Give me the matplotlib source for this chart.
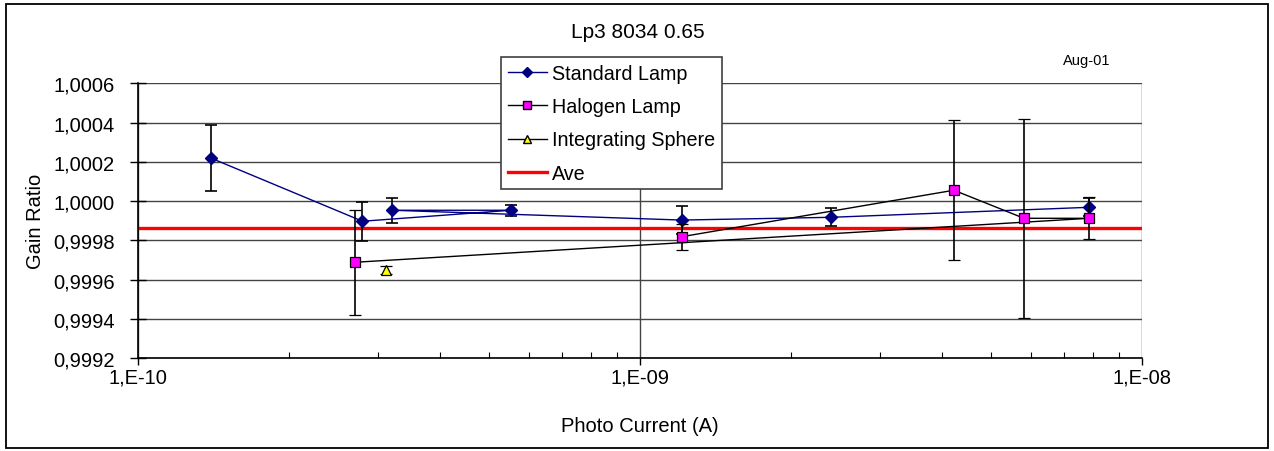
import math
import matplotlib
matplotlib.use("Agg")
import matplotlib.pyplot as plt
from matplotlib.ticker import FuncFormatter, FixedLocator, MultipleLocator, NullFormatter
from matplotlib.lines import Line2D
from matplotlib.patches import Rectangle

plt.rcParams['font.family'] = ['Liberation Sans', 'DejaVu Sans']

# ---- data ----
std_x = [1.40e-10, 2.80e-10, 5.53e-10, 3.21e-10, 1.21e-9, 2.40e-9, 7.84e-9]
std_y = [1.000218, 0.999897, 0.999953, 0.999953, 0.999903, 0.999917, 0.999968]
std_err = [0.000168, 0.000100, 0.000027, 0.000063, 0.000073, 0.000045, 0.000046]

hal_x = [1.21e-9, 4.22e-9, 5.82e-9, 7.84e-9, 2.71e-10]
hal_y = [0.999818, 1.000055, 0.999912, 0.999912, 0.999688]
hal_err = [0.000066, 0.000358, 0.000507, 0.000106, 0.000267]

sph_x = [3.12e-10]
sph_y = [0.999648]
sph_err = [0.000020]

ave_value = 0.99986

x_major = [1e-10, 1e-9, 1e-8]
x_minor = [m * d for d in (1e-10, 1e-9) for m in range(2, 10)]

title = "Lp3 8034 0.65"
date_note = "Aug-01"
x_label = "Photo Current (A)"
y_label = "Gain Ratio"
legend_labels = ["Standard Lamp", "Halogen Lamp", "Integrating Sphere", "Ave"]

W, H = 1274, 452
FS = 14.5
fig = plt.figure(figsize=(W / 100, H / 100), dpi=100)
fig.patch.set_facecolor('white')

# outer chart border
fig.add_artist(Rectangle((6 / W, 1 - 449 / H), (1268 - 6) / W, (449 - 5) / H,
                         transform=fig.transFigure, fill=False,
                         edgecolor='black', linewidth=1.3))

ax = fig.add_axes([138 / W, 1 - 359 / H, (1142 - 138) / W, (359 - 84.3) / H])
ax.set_xscale('log')
ax.set_xlim(1e-10, 1e-8)
ax.set_ylim(0.9992, 1.0006)

ax.yaxis.set_major_locator(MultipleLocator(0.0002))
ax.xaxis.set_major_locator(FixedLocator(x_major))
ax.xaxis.set_minor_locator(FixedLocator(x_minor))

ax.yaxis.set_major_formatter(FuncFormatter(lambda v, p: f"{v:.4f}".replace('.', ',')))
ax.xaxis.set_major_formatter(FuncFormatter(
    lambda v, p: f"1,E{int(round(math.log10(v))):+03d}"))
ax.xaxis.set_minor_formatter(NullFormatter())

ax.grid(True, which='major', axis='both', color='#444444', linewidth=1.0)
ax.set_axisbelow(True)
for s in ['top', 'right']:
    ax.spines[s].set_visible(False)
for s in ['left', 'bottom']:
    ax.spines[s].set_color('black')
    ax.spines[s].set_linewidth(1.2)

ax.tick_params(axis='y', which='major', direction='inout', length=11, width=1.0,
               labelsize=FS, pad=11)
ax.tick_params(axis='x', which='major', direction='out', length=5, width=1.0,
               labelsize=FS, pad=2)
ax.tick_params(axis='x', which='minor', direction='in', length=4, width=0.8)

# Ave line
ax.axhline(ave_value, color='#ff0000', linewidth=2.4, zorder=2)

# series
ax.errorbar(std_x, std_y, yerr=std_err, color='#000080', linewidth=1.0,
            marker='D', markersize=6, markerfacecolor='#000080',
            markeredgecolor='#000080', ecolor='black', elinewidth=1.2,
            capsize=4, capthick=1.2, zorder=3)
ax.errorbar(hal_x, hal_y, yerr=hal_err, color='black', linewidth=1.0,
            marker='s', markersize=7, markerfacecolor='#ff00ff',
            markeredgecolor='black', markeredgewidth=0.9, ecolor='black',
            elinewidth=1.2, capsize=4, capthick=1.2, zorder=4)
ax.errorbar(sph_x, sph_y, yerr=sph_err, color='black', linewidth=1.0,
            marker='^', markersize=7, markerfacecolor='#ffff00',
            markeredgecolor='black', markeredgewidth=0.9, ecolor='black',
            elinewidth=1.2, capsize=4, capthick=1.2, zorder=4)

ax.set_xlabel(x_label, fontsize=FS, labelpad=21)
ax.set_ylabel(y_label, fontsize=FS, labelpad=6)

fig.text(637.5 / W, 1 - 32 / H, title, ha='center', va='center', fontsize=15)
fig.text(1087 / W, 1 - 61 / H, date_note, ha='center', va='center', fontsize=10.5)

handles = [
    Line2D([], [], color='#000080', linewidth=1.0, marker='D', markersize=5,
           markerfacecolor='#000080', markeredgecolor='#000080'),
    Line2D([], [], color='black', linewidth=1.0, marker='s', markersize=6,
           markerfacecolor='#ff00ff', markeredgecolor='black'),
    Line2D([], [], color='black', linewidth=1.0, marker='^', markersize=6,
           markerfacecolor='#ffff00', markeredgecolor='black'),
    Line2D([], [], color='#ff0000', linewidth=2.4),
]
leg = fig.legend(handles, legend_labels, loc='upper left',
                 bbox_to_anchor=(501 / W, 1 - 58.3 / H),
                 bbox_transform=fig.transFigure, borderaxespad=0,
                 fontsize=14.2, handlelength=2.0, handletextpad=0.25,
                 labelspacing=0.72, borderpad=0.34, fancybox=False,
                 framealpha=1, edgecolor='#404040', facecolor='white')
leg.get_frame().set_linewidth(1.2)
leg.set_zorder(10)

fig.savefig('out.png', dpi=100, facecolor='white')
